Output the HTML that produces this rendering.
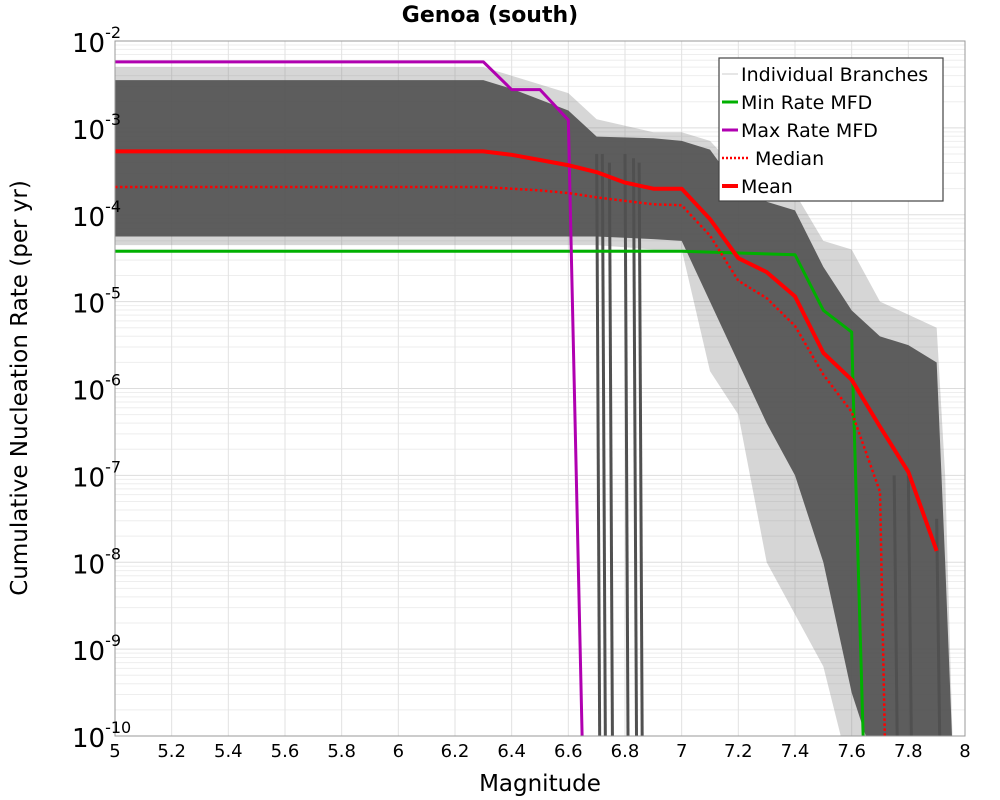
<!DOCTYPE html>
<html><head><meta charset="utf-8"><style>
body{margin:0;background:#fff;font-family:"Liberation Sans","DejaVu Sans",sans-serif}
svg{display:block}
</style></head><body>
<svg id="chart" width="1000" height="800" xmlns="http://www.w3.org/2000/svg">
<text x="490" y="22" text-anchor="middle" font-size="22" font-weight="bold" font-family="DejaVu Sans, Liberation Sans, sans-serif">Genoa (south)</text>
<text transform="translate(27,388) rotate(-90)" text-anchor="middle" font-size="23" font-family="DejaVu Sans, Liberation Sans, sans-serif">Cumulative Nucleation Rate (per yr)</text>
<text x="540" y="791" text-anchor="middle" font-size="23" font-family="DejaVu Sans, Liberation Sans, sans-serif">Magnitude</text>
<g id="grid"></g>
<g id="bands"></g>
<g id="series"></g>
<rect x="115" y="41" width="850" height="695" fill="none" stroke="#999" stroke-width="1"/>
<g id="ticks"></g>
<g id="legend">
<rect x="719" y="58" width="224" height="143" fill="#fff" stroke="#444" stroke-width="1.2"/>
</g>
</svg>
<script>
const xTicks=[5,5.2,5.4,5.6,5.8,6,6.2,6.4,6.6,6.8,7,7.2,7.4,7.6,7.8,8];
const xTickLabels=["5","5.2","5.4","5.6","5.8","6","6.2","6.4","6.6","6.8","7","7.2","7.4","7.6","7.8","8"];
const yExps=[-2,-3,-4,-5,-6,-7,-8,-9,-10];
const meanMag=[5,6.3,6.4,6.5,6.6,6.7,6.8,6.9,7.0,7.1,7.2,7.3,7.4,7.5,7.6,7.7,7.8,7.9];
const meanLog=[-3.27,-3.27,-3.31,-3.37,-3.43,-3.51,-3.63,-3.70,-3.70,-4.05,-4.50,-4.66,-4.94,-5.59,-5.90,-6.44,-6.96,-7.87];
const medMag=[5,6.3,6.5,6.6,6.7,6.8,6.9,7.0,7.1,7.2,7.3,7.4,7.5,7.6,7.7,7.72];
const medLog=[-3.68,-3.68,-3.72,-3.75,-3.80,-3.84,-3.88,-3.89,-4.24,-4.76,-4.96,-5.28,-5.84,-6.27,-7.19,-10.5];
const minMag=[5,7.0,7.4,7.5,7.6,7.605,7.645];
const minLog=[-4.42,-4.42,-4.46,-5.10,-5.35,-6.0,-10.5];
const maxMag=[5,6.3,6.4,6.5,6.6,6.65];
const maxLog=[-2.24,-2.24,-2.56,-2.56,-2.91,-10.2];
const bandMag=[5,6.3,6.4,6.6,6.7,6.9,7.0,7.1,7.2,7.3,7.4,7.5,7.6,7.7,7.8,7.9,7.93,7.96];
const innerTop=[-2.45,-2.45,-2.55,-2.8,-3.1,-3.12,-3.15,-3.25,-3.7,-3.85,-3.95,-4.6,-5.1,-5.4,-5.5,-5.7,-8,-10.5];
const innerBot=[-4.25,-4.25,-4.25,-4.25,-4.25,-4.28,-4.3,-5.0,-5.7,-6.4,-7.0,-8.0,-9.5,-10.5,-10.5,-10.5,-10.5,-10.5];
const outerTop=[-2.3,-2.3,-2.4,-2.6,-2.9,-3.05,-3.05,-3.15,-3.5,-3.7,-3.75,-4.3,-4.4,-5.0,-5.15,-5.3,-7,-10.5];
const outerBot=[-4.35,-4.35,-4.35,-4.35,-4.35,-4.4,-4.4,-5.8,-6.3,-8.0,-8.6,-9.2,-10.5,-10.5,-10.5,-10.5,-10.5,-10.5];
const dropMags=[6.7,6.72,6.745,6.8,6.83,6.85,7.75,7.8,7.9];
const dropTops=[-3.3,-3.3,-3.4,-3.3,-3.35,-3.4,-7.0,-7.0,-7.5];

const X0=115,X1=965,Y0=41,Y1=736;
const sx=m=>X0+(m-5)/3*(X1-X0);
const sy=l=>Y0+(-2-l)/8*(Y1-Y0);
const NS="http://www.w3.org/2000/svg";
function mk(tag,parent,attrs){const e=document.createElementNS(NS,tag);for(const k in attrs)e.setAttribute(k,attrs[k]);parent.appendChild(e);return e;}
const clip=mk('clipPath',document.getElementById('chart'),{id:'pc'});
mk('rect',clip,{x:X0,y:Y0,width:X1-X0,height:Y1-Y0});

const grid=document.getElementById('grid');
for(let e=-10;e<-2;e++){for(let k=1;k<10;k++){const y=sy(e+Math.log10(k));
 const ln=mk('line',grid,{x1:X0,x2:X1,y1:y,y2:y,stroke:k===1?'#ddd':'#eee','stroke-width':1});
 
 }}
xTicks.forEach(m=>{const ln=mk('line',grid,{x1:sx(m),x2:sx(m),y1:Y0,y2:Y1,stroke:'#e2e2e2','stroke-width':1});
 
 });

const bands=document.getElementById('bands');bands.setAttribute('clip-path','url(#pc)');
function band(top,bot,fill,op,name){let d='M';bandMag.forEach((m,i)=>d+=sx(m)+','+sy(top[i])+' L');
 for(let i=bandMag.length-1;i>=0;i--)d+=sx(bandMag[i])+','+sy(bot[i])+(i?' L':' Z');
 const p=mk('path',bands,{d:d,fill:fill,'fill-opacity':op});
 
 }
band(outerTop,outerBot,'#777',0.3,'branch-envelope-outer');
band(innerTop,innerBot,'#505050',0.9,'branch-envelope-inner');
dropMags.forEach((m,i)=>{const ln=mk('line',bands,{x1:sx(m),x2:sx(m)+3,y1:sy(dropTops[i]),y2:Y1,stroke:'#505050','stroke-width':3});
 
 });

const ser=document.getElementById('series');ser.setAttribute('clip-path','url(#pc)');
function line(ms,ls,col,w,dash,name){const pts=ms.map((m,i)=>sx(m)+','+sy(ls[i])).join(' ');
 const p=mk('polyline',ser,{points:pts,fill:'none',stroke:col,'stroke-width':w,'stroke-linejoin':'round'});
 if(dash)p.setAttribute('stroke-dasharray',dash);
 
 }
line(minMag,minLog,'#00b000',3,null,'min-rate-line');
line(maxMag,maxLog,'#b000b0',3,null,'max-rate-line');
line(medMag,medLog,'#ff0000',2.5,'2.5,2.5','median-line');
line(meanMag,meanLog,'#ff0000',4,null,'mean-line');

const ticks=document.getElementById('ticks');
xTicks.forEach((m,i)=>{const t=mk('text',ticks,{x:sx(m),y:757,'text-anchor':'middle','font-size':18,'font-family':'DejaVu Sans, Liberation Sans, sans-serif'});
 t.textContent=xTickLabels[i];
 
 });
yExps.forEach(e=>{const t=mk('text',ticks,{x:72,y:sy(e)+11,'font-size':26,'font-family':'DejaVu Sans, Liberation Sans, sans-serif'});
 t.textContent='10';
 const s=mk('tspan',t,{dy:-14,'font-size':16});s.textContent=String(e);
 
 });

const leg=document.getElementById('legend');
const legNames=['Individual Branches','Min Rate MFD','Max Rate MFD','Median','Mean'];
const legCols=['#ccc','#00b000','#b000b0','#ff0000','#ff0000'];
const legW=[1,3,3,2.5,4];
legNames.forEach((n,i)=>{const y=74+i*28;
 const ln=mk('line',leg,{x1:722,x2:738,y1:y,y2:y,stroke:legCols[i],'stroke-width':legW[i]});
 if(i===3){ln.setAttribute('stroke-dasharray','2,2');ln.setAttribute('x2','750');}
 
 
 const t=mk('text',leg,{x:i===3?755:741,y:y+7,'font-size':19,'font-family':'DejaVu Sans, Liberation Sans, sans-serif'});
 t.textContent=n;
 
 });
</script>
</body></html>
